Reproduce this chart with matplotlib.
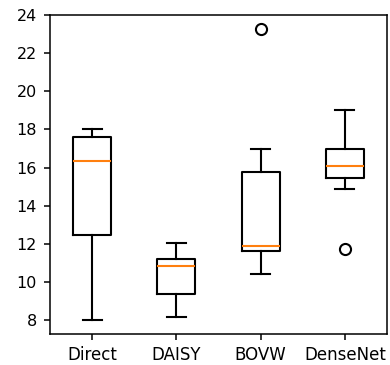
import matplotlib
matplotlib.use("Agg")
import matplotlib.pyplot as plt

labels = ["Direct", "DAISY", "BOVW", "DenseNet"]
whislo = [8.0, 8.16, 10.41, 14.89]
q1 = [12.47, 9.38, 11.62, 15.43]
med = [16.36, 10.85, 11.88, 16.1]
q3 = [17.62, 11.22, 15.76, 16.97]
whishi = [18.0, 12.06, 16.95, 19.0]
fliers = [[], [], [23.25], [11.74]]

stats = []
for i in range(len(labels)):
    stats.append(dict(label=labels[i], whislo=whislo[i], q1=q1[i], med=med[i],
                      q3=q3[i], whishi=whishi[i], fliers=fliers[i]))

fig = plt.figure(figsize=(3.9, 3.65), dpi=100)
ax = fig.add_axes([50/390, 1-334/365, 337/390, 319/365])
lw = 1.5
ax.bxp(stats, widths=0.45,
       boxprops=dict(linewidth=lw),
       whiskerprops=dict(linewidth=lw),
       capprops=dict(linewidth=lw),
       medianprops=dict(linewidth=lw, color="#ff7f0e"),
       flierprops=dict(marker="o", markersize=8, markerfacecolor="none",
                       markeredgecolor="black", markeredgewidth=1.5))
ax.set_ylim(7.27, 24)
ax.set_yticks([8, 10, 12, 14, 16, 18, 20, 22, 24])
ax.set_xlim(0.5, 4.5)
for s in ax.spines.values():
    s.set_linewidth(1.1)
ax.tick_params(axis="y", labelsize=11.5, width=1.1, length=4.5, pad=5)
ax.tick_params(axis="x", labelsize=12, width=1.1, length=4.5, pad=4)
fig.savefig("out.png", dpi=100)
